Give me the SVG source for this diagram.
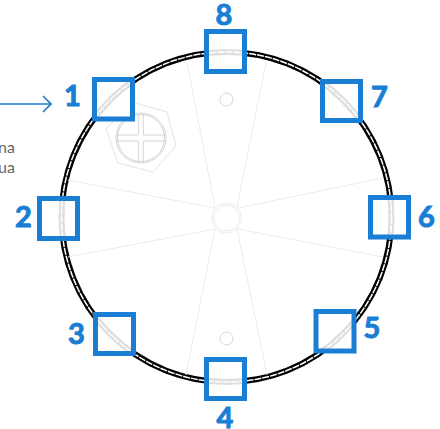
<svg xmlns="http://www.w3.org/2000/svg" width="440" height="429" viewBox="0 0 440 429">
<style>
.sq{fill:#fff;fill-opacity:.87;stroke:#1a7fd4;stroke-width:5}
.n{font:700 29px Lato,"Liberation Sans",sans-serif;fill:#1a7fd4;stroke:#1a7fd4;stroke-width:1;text-anchor:middle}
.t{font:400 16px Lato,"Liberation Sans",sans-serif;fill:#666}
.f{fill:none;stroke:#ececec;stroke-width:1}
.g{fill:none;stroke:#d4d4d4;stroke-width:1}
</style>
<rect width="440" height="429" fill="#fff"/>
<g id="plate">
<circle cx="226.500" cy="217" r="165" fill="none" stroke="#000" stroke-width="6"/>
<circle cx="226.500" cy="217" r="165" fill="none" stroke="#fff" stroke-width="1.500" stroke-dasharray="7 1"/>
<g class="f">
<path d="M187 63 L215 207M266 63 L237 207M383 178 L238 208M383 257 L238 229M267 375 L237 229M186 375 L215 229M68 257 L215 229M68 180 L215 208"/>
<circle cx="226.500" cy="218" r="15"/><circle cx="226.500" cy="218" r="13"/>
<circle cx="226.500" cy="99.500" r="6.500" stroke="#d8d8d8"/><circle cx="226.500" cy="338.500" r="6.500" stroke="#d8d8d8"/>
<path d="M135 103 L167 112 L176 146 L153 172 L118 163 L106 128 Z" stroke="#e4e4e4"/>
</g>
<g class="g">
<circle cx="141" cy="138" r="25"/><circle cx="141" cy="138" r="23.500"/>
<path d="M138.300 114 V135 H117M143.300 114 V135 H165M138.300 162 V141 H117M143.300 162 V141 H165"/>
</g>
</g>
<g id="connectors">
<path d="M0 104 H51M43 96 L51 104 L43 112" fill="none" stroke="#1a7fd4" stroke-width="1.700"/>
</g>
<g id="note"><text class="t" x="-2" y="153">na</text><text class="t" x="-2" y="173">ua</text></g>
<g id="n1"><rect class="sq" x="94.500" y="79.500" width="38" height="39.500"/><text class="n" x="72.500" y="106">1</text></g>
<g id="n2"><rect class="sq" x="39.500" y="198.500" width="38" height="40"/><text class="n" x="23.500" y="226.500">2</text></g>
<g id="n3"><rect class="sq" x="95.500" y="314.500" width="38" height="39"/><text class="n" x="76.500" y="344">3</text></g>
<g id="n4"><rect class="sq" x="206.500" y="359.500" width="38" height="39"/><text class="n" x="225" y="428">4</text></g>
<g id="n5"><rect class="sq" x="316" y="311.500" width="38" height="39.500"/><text class="n" x="372" y="338">5</text></g>
<g id="n6"><rect class="sq" x="370.500" y="197.500" width="38" height="39.500"/><text class="n" x="426.500" y="226.500">6</text></g>
<g id="n7"><rect class="sq" x="322.500" y="81.500" width="38" height="39"/><text class="n" x="379.500" y="107">7</text></g>
<g id="n8"><rect class="sq" x="206.500" y="31.500" width="38" height="40"/><text class="n" x="224" y="25">8</text></g>
</svg>
